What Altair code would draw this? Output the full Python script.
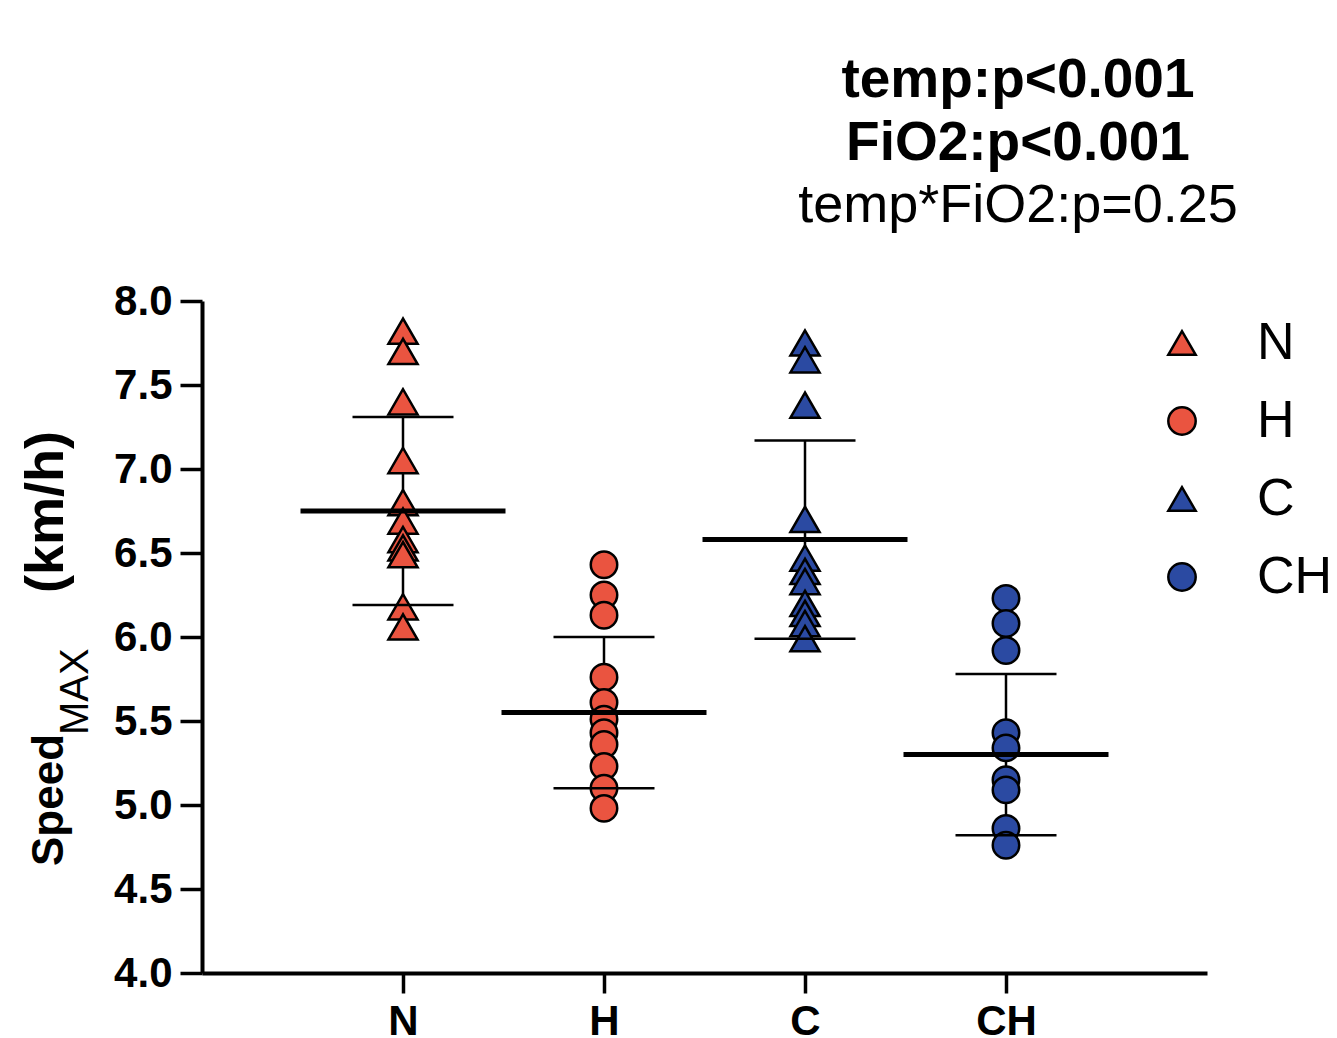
import altair as alt
import pandas as pd

# ---------------- data ----------------
groups = ["N", "H", "C", "CH"]
vals_N = [7.82, 7.70, 7.40, 7.05, 6.80, 6.69, 6.58, 6.53, 6.49, 6.18, 6.06]
vals_H = [6.43, 6.25, 6.13, 5.76, 5.61, 5.51, 5.43, 5.36, 5.23, 5.10, 4.98]
vals_C = [7.75, 7.65, 7.38, 6.70, 6.47, 6.39, 6.33, 6.20, 6.14, 6.08, 5.99]
vals_CH = [6.23, 6.08, 5.92, 5.43, 5.34, 5.15, 5.09, 4.86, 4.76]
means = [6.75, 5.55, 6.58, 5.30]
sds = [0.56, 0.45, 0.59, 0.48]
y_ticks = [4.0, 4.5, 5.0, 5.5, 6.0, 6.5, 7.0, 7.5, 8.0]
stat_lines = ["temp:p<0.001", "FiO2:p<0.001", "temp*FiO2:p=0.25"]
y_title_parts = ["Speed", "MAX", "(km/h)"]

RED = "#EA5440"
BLUE = "#2B4AA2"
FONT = "Liberation Sans"

pts = pd.DataFrame(
    [{"group": g, "value": v}
     for g, vs in zip(groups, [vals_N, vals_H, vals_C, vals_CH]) for v in vs]
)
stats = pd.DataFrame({"group": groups, "mean": means, "sd": sds})
stats["lo"] = stats["mean"] - stats["sd"]
stats["hi"] = stats["mean"] + stats["sd"]

xscale = alt.Scale(domain=groups, type="point", padding=1)
yscale = alt.Scale(domain=[4, 8], nice=False, zero=False)

xenc = alt.X(
    "group:N", scale=xscale, title=None,
    axis=alt.Axis(labelFont=FONT, labelFontWeight="bold", labelFontSize=42,
                  labelColor="black", labelAngle=0, labelPadding=8,
                  tickSize=20, tickWidth=3.5, tickColor="black",
                  domainColor="black", domainWidth=4, grid=False),
)
yaxis = alt.Axis(values=y_ticks, format=".1f", labelFont=FONT,
                 labelFontWeight="bold", labelFontSize=42, labelColor="black",
                 labelPadding=8, tickSize=22, tickWidth=3.5, tickColor="black",
                 domainColor="black", domainWidth=4, grid=False)

shape_scale = alt.Scale(domain=groups,
                        range=["triangle-up", "circle", "triangle-up", "circle"])
color_scale = alt.Scale(domain=groups, range=[RED, RED, BLUE, BLUE])
legend = alt.Legend(orient="none", legendX=954, legendY=16, title=None,
                    labelFont=FONT, labelFontSize=52, labelColor="black",
                    symbolSize=750, symbolStrokeColor="black",
                    symbolStrokeWidth=2.5, labelOffset=49, rowPadding=26)

base_stats = alt.Chart(stats)

vrule = base_stats.mark_rule(color="black", strokeWidth=2.5, opacity=1).encode(
    x=xenc,
    y=alt.Y("lo:Q", scale=yscale, axis=yaxis, title=None),
    y2="hi:Q",
)


def points(shape, size):
    return alt.Chart(pts).transform_filter(
        alt.FieldOneOfPredicate(field="group",
                                oneOf=[g for g, s in zip(groups, shape_scale.range) if s == shape])
    ).mark_point(filled=True, size=size, stroke="black", strokeWidth=2.5,
                 opacity=1, fillOpacity=1).encode(
        x=xenc,
        y=alt.Y("value:Q", scale=yscale, axis=yaxis, title=None),
        color=alt.Color("group:N", scale=color_scale, legend=legend),
        shape=alt.Shape("group:N", scale=shape_scale, legend=legend),
    )


tri = points("triangle-up", 850)
circ = points("circle", 700)


def tick(field, size, thickness):
    return base_stats.mark_tick(color="black", thickness=thickness, size=size,
                                orient="horizontal", opacity=1).encode(
        x=xenc, y=alt.Y(f"{field}:Q", scale=yscale, axis=yaxis, title=None))


cap_lo = tick("lo", 101, 2.5)
cap_hi = tick("hi", 101, 2.5)
mean_tick = tick("mean", 205, 5)

one = pd.DataFrame({"k": [0]})


def txt(text, x, y, size, weight="normal", angle=0, align="center",
        baseline="alphabetic"):
    kw = dict(text=text, font=FONT, fontSize=size, fontWeight=weight,
              color="black", align=align, baseline=baseline)
    if angle:
        kw["angle"] = angle
    return alt.Chart(one).mark_text(**kw).encode(x=alt.value(x), y=alt.value(y))


annots = [
    txt(stat_lines[0], 816, -204, 55, "bold"),
    txt(stat_lines[1], 816, -141, 55, "bold"),
    txt(stat_lines[2], 816, -79, 54),
    txt(y_title_parts[0], -139, 565, 44, "bold", angle=270, align="left"),
    txt(y_title_parts[1], -114, 434, 40, "normal", angle=270, align="left"),
    txt(y_title_parts[2], -139, 292, 54, "bold", angle=270, align="left"),
]

chart = alt.layer(vrule, tri, circ, cap_lo, cap_hi, mean_tick, *annots).properties(
    width=1005, height=672,
    autosize=alt.AutoSizeParams(type="none"),
    padding={"left": 194, "top": 293, "right": 122, "bottom": 80},
    background="white",
).configure_view(strokeWidth=0, stroke="transparent")

chart.save("out.html", embed_options={"renderer": "svg", "actions": False})
